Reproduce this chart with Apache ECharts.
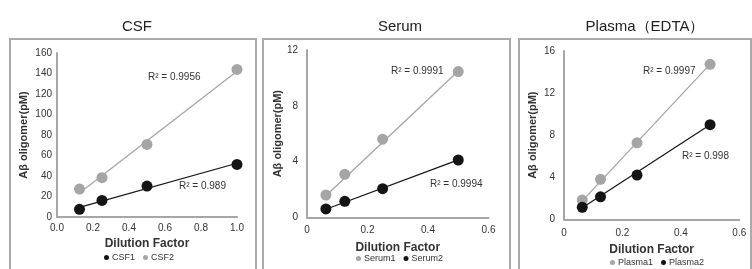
<!DOCTYPE html>
<html><head><meta charset="utf-8">
<script src="https://cdn.jsdelivr.net/npm/echarts@6/dist/echarts.min.js"></script>
<style>html,body{margin:0;padding:0;background:#fff}#c{width:752px;height:269px}</style>
</head><body><div id="c"></div>
<script>
// ---- data ----
const csfX = [0.125, 0.25, 0.5, 1.0];
const csf1 = [7.5, 16.2, 30.2, 51.3];
const csf2 = [27.3, 38.4, 70.8, 144];
const csf1Trend = [[0.125, 9.4], [1.0, 52.4]];
const csf2Trend = [[0.125, 23.5], [1.0, 142.2]];

const serumX = [0.0625, 0.125, 0.25, 0.5];
const serum1 = [1.6, 3.08, 5.6, 10.45];
const serum2 = [0.6, 1.15, 2.05, 4.11];
const serum1Trend = [[0.0625, 1.55], [0.5, 10.5]];
const serum2Trend = [[0.0625, 0.58], [0.5, 4.12]];

const plasmaX = [0.0625, 0.125, 0.25, 0.5];
const plasma1 = [1.83, 3.8, 7.27, 14.73];
const plasma2 = [1.14, 2.14, 4.2, 9.0];
const plasma1Trend = [[0.0625, 1.75], [0.5, 14.75]];
const plasma2Trend = [[0.0625, 1.1], [0.5, 9.0]];

const titles = ['CSF', 'Serum', 'Plasma（EDTA）'];
const r2Labels = [['R² = 0.9956', 'R² = 0.989'], ['R² = 0.9991', 'R² = 0.9994'], ['R² = 0.9997', 'R² = 0.998']];
const yAxisName = 'Aβ oligomer(pM)';
const xAxisName = 'Dilution Factor';

// ---- styles ----
const GRAY = '#a5a5a5', BLACK = '#141414', AXIS = '#a6a6a6', TXT = '#333';
const FONT = 'Liberation Sans, Arial, sans-serif';
const pairs = (xs, ys) => xs.map((x, i) => [x, ys[i]]);

const grids = [
  {left: 57, top: 53, width: 180, height: 164},
  {left: 307, top: 50, width: 181.5, height: 167.3},
  {left: 564, top: 51, width: 175.3, height: 168.3}
];
const yCfg = [{max: 160, interval: 20, gap: 28}, {max: 12, interval: 4, gap: 19}, {max: 16, interval: 4, gap: 26}];
const xCfg = [{max: 1.0, fmt: v => v.toFixed(1), margin: 6, gap: 19}, {max: 0.6, fmt: v => String(v), margin: 8, gap: 24}, {max: 0.6, fmt: v => String(v), margin: 9, gap: 23}];

const xAxis = xCfg.map((c, i) => ({
  gridIndex: i, type: 'value', min: 0, max: c.max, interval: 0.2,
  axisLine: {show: true, onZero: false, lineStyle: {color: AXIS, width: 2}},
  axisTick: {show: false}, splitLine: {show: false},
  axisLabel: {formatter: c.fmt, color: TXT, fontSize: 10, fontFamily: FONT, margin: c.margin},
  name: xAxisName, nameLocation: 'middle', nameGap: c.gap,
  nameTextStyle: {fontWeight: 'bold', fontSize: 12, color: TXT, fontFamily: FONT}
}));
const yAxis = yCfg.map((c, i) => ({
  gridIndex: i, type: 'value', min: 0, max: c.max, interval: c.interval,
  axisLine: {show: true, lineStyle: {color: AXIS, width: 2}},
  axisTick: {show: false}, splitLine: {show: false},
  axisLabel: {color: TXT, fontSize: 10, fontFamily: FONT, margin: i === 0 ? 5 : 9},
  name: yAxisName, nameLocation: 'middle', nameGap: c.gap,
  nameTextStyle: {fontWeight: 'bold', fontSize: 11, color: TXT, fontFamily: FONT}
}));

function pts(name, gi, data, color) {
  return {name, type: 'scatter', xAxisIndex: gi, yAxisIndex: gi, data, symbolSize: 11,
    itemStyle: {color, opacity: 1}, z: 3, silent: true};
}
function trend(gi, data, color, w) {
  return {type: 'line', xAxisIndex: gi, yAxisIndex: gi, data, symbol: 'none', z: 2, silent: true,
    lineStyle: {color, width: w}};
}
const series = [
  trend(0, csf2Trend, GRAY, 1.3), trend(0, csf1Trend, BLACK, 1.2),
  pts('CSF1', 0, pairs(csfX, csf1), BLACK), pts('CSF2', 0, pairs(csfX, csf2), GRAY),
  trend(1, serum1Trend, GRAY, 1.3), trend(1, serum2Trend, BLACK, 1.2),
  pts('Serum1', 1, pairs(serumX, serum1), GRAY), pts('Serum2', 1, pairs(serumX, serum2), BLACK),
  trend(2, plasma1Trend, GRAY, 1.3), trend(2, plasma2Trend, BLACK, 1.2),
  pts('Plasma1', 2, pairs(plasmaX, plasma1), GRAY), pts('Plasma2', 2, pairs(plasmaX, plasma2), BLACK)
];

const legendBase = {itemWidth: 5, itemHeight: 5, itemGap: 8, icon: 'circle', selectedMode: false,
  textStyle: {fontSize: 9, color: TXT, fontFamily: FONT, padding: [0, 0, 0, -2]}, padding: 0};
const legend = [
  Object.assign({}, legendBase, {data: ['CSF1', 'CSF2'], left: 104, top: 253}),
  Object.assign({}, legendBase, {data: ['Serum1', 'Serum2'], left: 356, top: 254}),
  Object.assign({}, legendBase, {data: ['Plasma1', 'Plasma2'], left: 610, top: 258})
];

const titleCenters = [132, 395, 640];
const title = titles.map((t, i) => ({text: t, left: titleCenters[i], top: 14, textAlign: 'center',
  textStyle: {fontSize: 15, fontWeight: 'normal', color: '#222', fontFamily: FONT}}));

const frames = [[10, 39, 246], [263, 39, 247], [519, 39, 232]];
const r2Pos = [[[148, 77], [179, 186]], [[391, 71], [430, 184]], [[643, 71], [682, 156]]];
const graphic = [];
frames.forEach(f => graphic.push({type: 'rect', shape: {x: f[0], y: f[1], width: f[2], height: 240},
  style: {fill: 'none', stroke: '#aaaaaa', lineWidth: 2}, silent: true}));
r2Labels.forEach((pr, i) => pr.forEach((t, j) => graphic.push({type: 'text', x: r2Pos[i][j][0], y: r2Pos[i][j][1],
  style: {text: t, fontSize: 10, fill: TXT, font: '10px ' + FONT, verticalAlign: 'middle'}, silent: true})));

const chart = echarts.init(document.getElementById('c'), null, {renderer: 'canvas'});
chart.setOption({animation: false, backgroundColor: '#fff', title, legend, grid: grids, xAxis, yAxis, series, graphic});
</script></body></html>
